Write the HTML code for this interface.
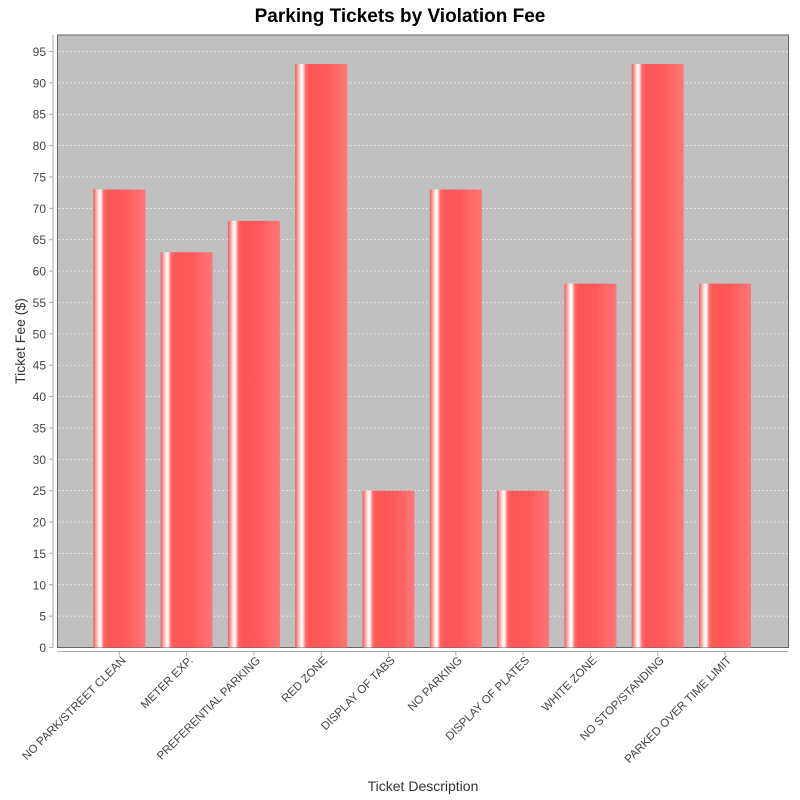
<!DOCTYPE html>
<html><head><meta charset="utf-8"><style>
body{margin:0;background:#fff;}
svg{display:block;font-family:"Liberation Sans","DejaVu Sans",sans-serif;}
</style></head><body>
<svg id="chart" width="800" height="800">
<defs>
<linearGradient id="bg" x1="0" x2="1" y1="0" y2="0">
<stop offset="0" stop-color="#f05a5a"/>
<stop offset="0.1" stop-color="#ffe8e8"/>
<stop offset="0.14" stop-color="#ffffff"/>
<stop offset="0.2" stop-color="#ff6a6a"/>
<stop offset="0.28" stop-color="#ff5555"/>
<stop offset="0.6" stop-color="#ff5a5a"/>
<stop offset="1" stop-color="#ff7676"/>
</linearGradient>
</defs>
<text x="400" y="22" text-anchor="middle" font-size="19" font-weight="bold" fill="#000">Parking Tickets by Violation Fee</text>
<rect x="57.5" y="35" width="731" height="612.5" fill="#c0c0c0" stroke="#666" stroke-width="1"/>
<g id="grid"></g>
<g id="bars"></g>
<line x1="53" y1="35" x2="53" y2="647.5" stroke="#aaa"/>
<line x1="57.5" y1="651.5" x2="788.5" y2="651.5" stroke="#aaa"/>
<g id="yticks"></g>
<g id="xticks"></g>
<text transform="translate(25,341) rotate(-90)" text-anchor="middle" font-size="14" fill="#333">Ticket Fee ($)</text>
<text x="423" y="791" text-anchor="middle" font-size="14" fill="#333">Ticket Description</text>
</svg>
<script>
const categories = ["NO PARK/STREET CLEAN","METER EXP.","PREFERENTIAL PARKING","RED ZONE","DISPLAY OF TABS","NO PARKING","DISPLAY OF PLATES","WHITE ZONE","NO STOP/STANDING","PARKED OVER TIME LIMIT"];
const fees = [73,63,68,93,25,73,25,58,93,58];
const yTicks = [0,5,10,15,20,25,30,35,40,45,50,55,60,65,70,75,80,85,90,95];
const NS="http://www.w3.org/2000/svg";
const y0=647.5, yPer=(647.5-51.5)/95;
function yScale(v){return y0-v*yPer;}
const firstC=119.3, step=67.3, barW=52;
function xCenter(i){return firstC+i*step;}
function mk(tag,attrs,parent){const e=document.createElementNS(NS,tag);for(const k in attrs)e.setAttribute(k,attrs[k]);parent.appendChild(e);return e;}
const grid=document.getElementById('grid'), yt=document.getElementById('yticks');
yTicks.forEach(v=>{
  const y=yScale(v);
  if(v>0){const g=mk('line',{x1:58,x2:788,y1:y,y2:y,stroke:'#f0f0f0','stroke-dasharray':'2,2','stroke-width':0.7},grid);
  
  }
  const t=mk('line',{x1:49,x2:53,y1:y,y2:y,stroke:'#aaa'},yt);
  
  
  const l=mk('text',{x:46,y:y+4.5,'text-anchor':'end','font-size':12,fill:'#444'},yt);
  l.textContent=v;
  
  
});
const bars=document.getElementById('bars'), xt=document.getElementById('xticks');
categories.forEach((c,i)=>{
  const cx=xCenter(i), top=yScale(fees[i]);
  const b=mk('rect',{x:cx-barW/2,y:top,width:barW,height:y0-top,fill:'url(#bg)'},bars);
  
  
  const t=mk('line',{x1:cx,x2:cx,y1:651.5,y2:655.5,stroke:'#aaa'},xt);
  
  
  const l=mk('text',{transform:`translate(${cx+7},${661}) rotate(-45)`,'text-anchor':'end','font-size':11.5,fill:'#444'},xt);
  l.textContent=c;
  
  
});
</script>
</body></html>
